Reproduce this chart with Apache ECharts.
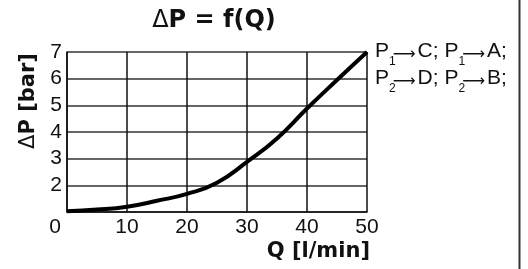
<!DOCTYPE html>
<html>
<head>
<meta charset="utf-8">
<script src="https://cdn.jsdelivr.net/npm/echarts@6/dist/echarts.min.js"></script>
<style>
  html, body { margin: 0; padding: 0; background: #fff; }
  #chart { width: 528px; height: 269px; }
</style>
</head>
<body>
<div id="chart"></div>
<script>
// 读图得到的曲线数据 Q [l/min] -> ΔP [bar]
var flow = [0, 5, 10, 15, 20, 25, 30, 35, 40, 45, 50];
var dropP = [1.03, 1.09, 1.2, 1.42, 1.68, 2.1, 2.88, 3.76, 4.88, 5.95, 7.0];
var xTicks = [0, 10, 20, 30, 40, 50];
var yTicks = [1, 2, 3, 4, 5, 6, 7];
var legendLines = [['1', 'C', '1', 'A'], ['2', 'D', '2', 'B']];

var font = 'Liberation Sans, Arial, sans-serif';
var boldFont = 'DejaVu Sans';
var chart = echarts.init(document.getElementById('chart'));

var pts = flow.map(function (q, i) { return [q, dropP[i]]; });

var legendRich = {
    p: { fontSize: 21, fontFamily: font, fill: '#111', lineHeight: 27, verticalAlign: 'middle' },
    s: { fontSize: 12, fontFamily: font, fill: '#111', lineHeight: 27, verticalAlign: 'bottom', padding: [0, 0, -3, 0] },
    a: { fontSize: 16, fontFamily: 'DejaVu Sans', fill: '#111', lineHeight: 27, verticalAlign: 'middle', padding: [6, 2, 0, -3] }
};
var legendText = legendLines.map(function (l) {
    return '{p|P}{s|' + l[0] + '}{a|⟶}{p|' + l[1] + '; P}{s|' + l[2] + '}{a|⟶}{p|' + l[3] + ';}';
}).join('\n');

var option = {
    backgroundColor: '#fff',
    animation: false,
    grid: { left: 67, right: 161, top: 52, bottom: 57 },
    xAxis: {
        type: 'value',
        min: 0, max: 50, interval: 10,
        name: 'Q [l/min]',
        nameLocation: 'end',
        nameGap: 3,
        nameTextStyle: {
            fontSize: 21, fontWeight: 'bold', fontFamily: boldFont, color: '#111',
            align: 'right', verticalAlign: 'top', padding: [29, 0, 0, 0]
        },
        axisLine: { show: true, lineStyle: { color: '#111', width: 1.5 } },
        axisTick: { show: false },
        axisLabel: {
            fontSize: 21, fontFamily: font, color: '#111', margin: 5,
            formatter: function (v) { return v === 0 ? '{z|0}' : String(v); },
            rich: { z: { fontSize: 21, fontFamily: font, color: '#111', padding: [0, 24, 0, 0] } }
        },
        splitLine: { show: true, lineStyle: { color: '#111', width: 1.5 } }
    },
    yAxis: {
        type: 'value',
        min: 1, max: 7, interval: 1,
        name: '{d|Δ}{b|P [bar]}',
        nameLocation: 'middle',
        nameGap: 26,
        nameTextStyle: {
            padding: [0, 0, 0, 62],
            rich: {
                d: { fontSize: 21, fontFamily: 'DejaVu Sans', color: '#111' },
                b: { fontSize: 21, fontWeight: 'bold', fontFamily: boldFont, color: '#111' }
            }
        },
        axisLine: { show: true, lineStyle: { color: '#111', width: 1.5 } },
        axisTick: { show: false },
        axisLabel: {
            fontSize: 21, fontFamily: font, color: '#111', margin: 5,
            formatter: function (v) { return v === 1 ? '' : String(v); }
        },
        splitLine: { show: true, lineStyle: { color: '#333', width: 1.5 } }
    },
    graphic: [
        {
            type: 'text',
            x: 214,
            y: 21,
            style: {
                text: '{d|Δ}{b|P = f(Q)}',
                align: 'center',
                verticalAlign: 'middle',
                rich: {
                    d: { fontSize: 24, fontFamily: 'DejaVu Sans', fill: '#111' },
                    b: { fontSize: 24, fontWeight: 'bold', fontFamily: boldFont, fill: '#111' }
                }
            }
        },
        {
            type: 'text',
            x: 375,
            y: 38,
            style: { text: legendText, rich: legendRich }
        },
        {
            type: 'line',
            shape: { x1: 519.5, y1: 0, x2: 519.5, y2: 269 },
            style: { stroke: '#333', lineWidth: 2 }
        }
    ],
    series: [{
        type: 'line',
        data: pts,
        smooth: true,
        symbol: 'none',
        lineStyle: { color: '#000', width: 4 }
    }]
};
chart.setOption(option);
</script>
</body>
</html>
